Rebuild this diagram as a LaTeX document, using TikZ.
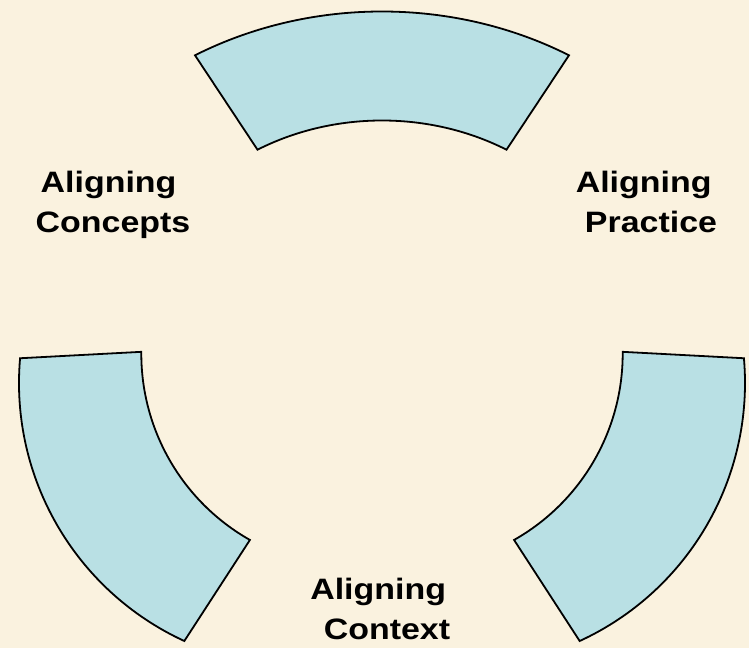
\documentclass[tikz,border=0pt]{standalone}
\usepackage{fontspec}
\usepackage{tikz}
\newfontfamily\lblfont[FakeStretch=1.15]{Liberation Sans}
\definecolor{c_back}{RGB}{250,242,223}
\definecolor{c_arc}{RGB}{185,224,228}
\tikzset{c-sector/.style={draw=black, line width=1.8pt, fill=c_arc, line join=miter},
c-label/.style={font=\lblfont\bfseries\fontsize{29.5}{40}\selectfont, align=center, inner sep=0pt, anchor=base}}

\begin{document}
\begin{tikzpicture}[x=1pt, y=1pt]
\fill[c_back] (-382,-309.5) rectangle (367,338.5);
\useasboundingbox (-382,-309.5) rectangle (367,338.5);
% top sector
\draw[c-sector] (120:374 and 327) arc[start angle=120, end angle=60, x radius=374, y radius=327]
  -- (60:249 and 218) arc[start angle=60, end angle=120, x radius=249, y radius=218] -- cycle;
% left sector
\draw[c-sector] ([shift={(-79,-44.5)}]175:284) arc[start angle=175, end angle=245.3, radius=284]
  -- ([shift={(-26.7,-15.2)}]240.5:214) arc[start angle=240.5, end angle=179.5, radius=214] -- cycle;
% right sector
\draw[c-sector] ([shift={(79,-44.5)}]5:284) arc[start angle=5, end angle=-65.3, radius=284]
  -- ([shift={(26.7,-15.2)}]-60.5:214) arc[start angle=-60.5, end angle=0.5, radius=214] -- cycle;
% labels (base = last line)
\node (concepts) [c-label] at (-269,106) {Aligning\hspace*{.3em}\\Concepts};
\node (practice) [c-label] at (269,106) {Aligning\hspace*{.5em}\\Practice};
\node (context) [c-label] at (5,-300.5) {Aligning\hspace*{.6em}\\Context};
\end{tikzpicture}
\end{document}
